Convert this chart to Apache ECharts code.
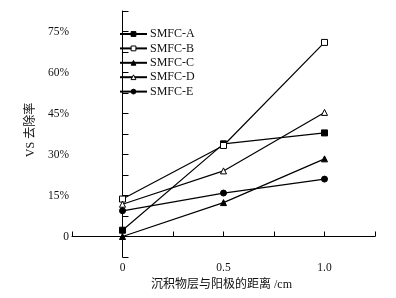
<!DOCTYPE html>
<html><head><meta charset="utf-8">
<script src="https://cdn.jsdelivr.net/npm/echarts@6/dist/echarts.min.js"></script>
<style>html,body{margin:0;padding:0;background:#fff}#c{width:396px;height:298px}</style>
</head><body><div id="c"></div>
<script>
var xValues = [0, 0.5, 1.0];
var seriesNames = ['SMFC-A', 'SMFC-B', 'SMFC-C', 'SMFC-D', 'SMFC-E'];
var valsA = [2.3, 33.9, 37.9];
var valsB = [13.7, 33.3, 71.0];
var valsC = [0.0, 12.4, 28.4];
var valsD = [11.8, 24.0, 45.4];
var valsE = [9.4, 15.9, 21.0];
var symbols = ['rect', 'emptyRect', 'triangle', 'emptyTriangle', 'circle'];
var hollow = [false, true, false, true, false];
var allVals = [valsA, valsB, valsC, valsD, valsE];
var yLabelValues = [0, 15, 30, 45, 60, 75];
var xLabelValues = [0, 0.5, 1.0];

var serif = '"Liberation Serif","Times New Roman","Noto Sans CJK SC",serif';
var chart = echarts.init(document.getElementById('c'));
var series = seriesNames.map(function (n, i) {
  return {
    name: n, type: 'line', symbol: symbols[i].replace('empty', '').toLowerCase(), symbolSize: 6,
    data: xValues.map(function (x, j) { return [x, allVals[i][j]]; }),
    lineStyle: { color: '#000', width: 1.2 },
    itemStyle: { color: hollow[i] ? '#fff' : '#000', borderColor: '#000', borderWidth: 1 },
    emphasis: { disabled: true }, animation: false
  };
});
chart.setOption({
  animation: false,
  grid: { left: 72, right: 21, top: 11, bottom: 41 },
  legend: {
    orient: 'vertical', left: 119, top: 28, padding: 0, itemWidth: 27, itemHeight: 6, itemGap: 2.4,
    textStyle: { fontFamily: serif, fontSize: 12, color: '#111', padding: [0, 0, 0, -2], lineHeight: 12 },
    data: seriesNames.map(function (n, i) {
      return { name: n, itemStyle: { color: hollow[i] ? '#fff' : '#000', borderColor: '#000', borderWidth: 1 } };
    })
  },
  xAxis: {
    type: 'value', min: -0.25, max: 1.25, interval: 0.25,
    name: '沉积物层与阳极的距离 /cm', nameLocation: 'middle', nameGap: 20,
    nameTextStyle: { fontFamily: serif, fontSize: 12, color: '#111', verticalAlign: 'top', padding: [0, 0, 0, -4] },
    splitLine: { show: false },
    axisLine: { lineStyle: { color: '#000', width: 1 } },
    axisTick: { inside: true, length: 5, lineStyle: { color: '#000' } },
    axisLabel: { fontFamily: serif, fontSize: 11.5, color: '#111', margin: 5,
      formatter: function (v) {
        for (var i = 0; i < xLabelValues.length; i++) if (Math.abs(v - xLabelValues[i]) < 1e-6) return v === 0 ? '0' : v.toFixed(1);
        return '';
      } }
  },
  yAxis: {
    type: 'value', min: -7.5, max: 82.5, interval: 7.5,
    name: 'VS 去除率', nameLocation: 'middle', nameGap: 24,
    nameTextStyle: { fontFamily: serif, fontSize: 12, color: '#111', padding: [0, 0, 0, 8] },
    splitLine: { show: false },
    axisLine: { show: true, lineStyle: { color: '#000', width: 1 } },
    axisTick: { inside: true, length: 6, lineStyle: { color: '#000' } },
    axisLabel: { fontFamily: serif, fontSize: 11.5, color: '#111', margin: 3,
      formatter: function (v) {
        for (var i = 0; i < yLabelValues.length; i++) if (Math.abs(v - yLabelValues[i]) < 1e-6) return v === 0 ? '0' : v + '%';
        return '';
      } }
  },
  series: series
});
</script></body></html>
